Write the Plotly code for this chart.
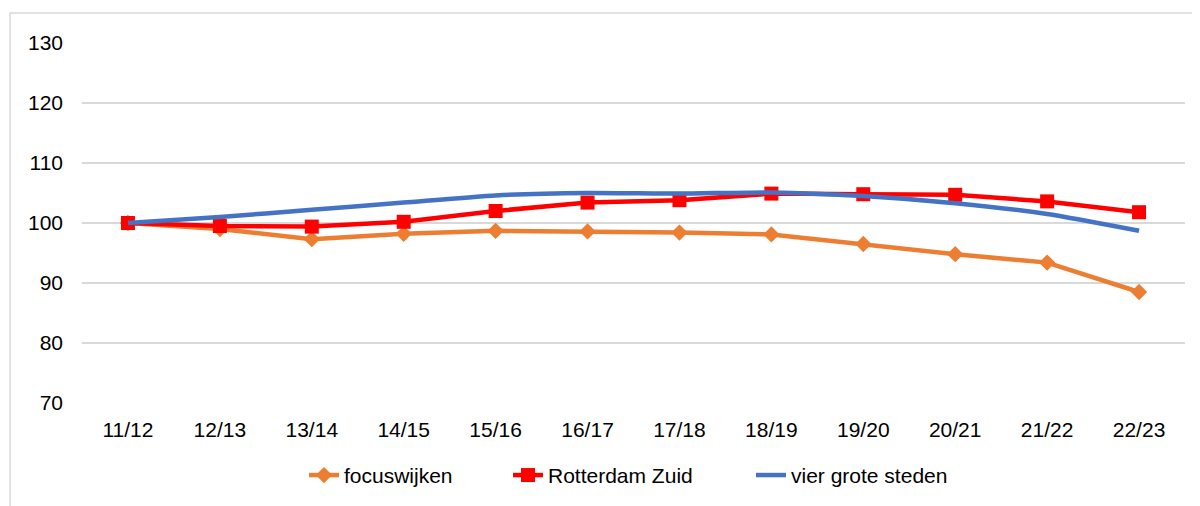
import plotly.graph_objects as go

# ── Data ────────────────────────────────────────────────────────────────────
jaren = ["11/12", "12/13", "13/14", "14/15", "15/16", "16/17",
         "17/18", "18/19", "19/20", "20/21", "21/22", "22/23"]

focuswijken = [100.0, 99.0, 97.3, 98.2, 98.7, 98.6, 98.4, 98.1, 96.5, 94.8, 93.4, 88.5]
rotterdam_zuid = [100.0, 99.5, 99.4, 100.2, 102.0, 103.4, 103.8, 104.9, 104.8, 104.7, 103.6, 101.8]
vier_grote_steden = [100.0, 101.0, 102.2, 103.4, 104.6, 105.0, 104.9, 105.1, 104.5, 103.3, 101.5, 98.7]

y_ticks = [70, 80, 90, 100, 110, 120, 130]

# ── Layout helpers (page has an 8px body margin, so work in page px - 8) ──
OFF = 8
W, H = 1200 - OFF, 506 - OFF
L, T = 82 - OFF, 43 - OFF
R = W - (1185 - OFF)
B = H - (403.5 - OFF)
PW, PH = W - L - R, H - T - B


def px_x(px):
    return (px - OFF - L) / PW


def px_y(py):
    return (H - B - (py - OFF)) / PH


# ── Figure ──────────────────────────────────────────────────────────────────
fig = go.Figure()

fig.add_trace(go.Scatter(
    x=jaren, y=focuswijken, name="focuswijken",
    mode="lines+markers", legend="legend",
    line=dict(color="#ED7D31", width=4.5),
    marker=dict(symbol="diamond", size=12.5, color="#ED7D31"),
))
fig.add_trace(go.Scatter(
    x=jaren, y=rotterdam_zuid, name="Rotterdam Zuid",
    mode="lines+markers", legend="legend2",
    line=dict(color="#FF0000", width=4.5),
    marker=dict(symbol="square", size=14, color="#FF0000"),
))
fig.add_trace(go.Scatter(
    x=jaren, y=vier_grote_steden, name="vier grote steden",
    mode="lines", legend="legend3",
    line=dict(color="#4472C4", width=4.5, shape="spline", smoothing=0.6),
))

# chart border (Excel chart area)
fig.add_shape(
    type="rect", xref="paper", yref="paper",
    x0=px_x(10), x1=px_x(1215), y0=px_y(530), y1=px_y(13),
    line=dict(color="#D9D9D9", width=1.5),
    fillcolor="rgba(0,0,0,0)", layer="below",
)

leg_common = dict(orientation="h", xanchor="left", yanchor="middle",
                  y=px_y(476), font=dict(size=21), bgcolor="rgba(0,0,0,0)")

fig.update_layout(
    width=W, height=H,
    margin=dict(l=L, r=R, t=T, b=B, autoexpand=False),
    plot_bgcolor="white", paper_bgcolor="white",
    font=dict(family="Liberation Sans, Arial, sans-serif", size=21, color="#000000"),
    showlegend=True,
    legend=dict(x=px_x(304), **leg_common),
    legend2=dict(x=px_x(508), **leg_common),
    legend3=dict(x=px_x(751), **leg_common),
    xaxis=dict(
        type="category", range=[-0.5, len(jaren) - 0.5],
        showgrid=False, zeroline=False, automargin=False,
        showline=False, ticks="", ticklabelstandoff=12,
    ),
    yaxis=dict(
        range=[70, 130], tickvals=y_ticks, automargin=False,
        showgrid=True, gridcolor="#D9D9D9", gridwidth=1.5,
        zeroline=False, showline=False, ticks="",
        ticklabelstandoff=18,
    ),
)

fig.write_html("out.html")
